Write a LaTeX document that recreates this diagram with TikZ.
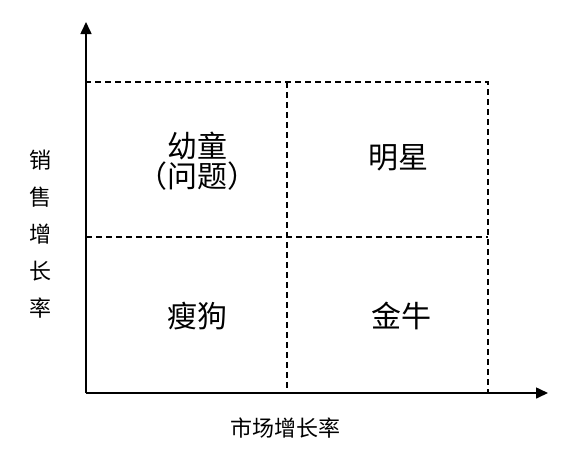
\documentclass[tikz,border=0pt]{standalone}
\usepackage{fontspec}
\setmainfont{Noto Sans CJK SC}
\usetikzlibrary{arrows.meta, positioning, calc}

\tikzset{
  axisline/.style={line width=1.6pt, -{Triangle[length=12pt,width=11pt]}},
  gridline/.style={dashed, dash pattern=on 6pt off 4pt, line width=1.1pt},
  cell/.style={font=\fontsize{30}{30}\selectfont, align=center},
  axislabel/.style={font=\fontsize{22}{37}\selectfont, align=center}
}

\begin{document}
\begin{tikzpicture}[x=1pt, y=-1pt]
\useasboundingbox (0,0) rectangle (574,467);
% axes
\coordinate (O) at (86,393);
\coordinate (ytip) at (86,22);
\coordinate (xtip) at (548,393);
\coordinate (tr) at (488,82);
\coordinate (mid) at (287,237);
\draw[gridline] (O) rectangle (tr);
\draw[gridline] (mid |- tr) -- (mid |- O);
\draw[gridline] (O |- mid) -- (tr |- mid);
\draw[axisline] (O) -- (ytip);
\draw[axisline] (O) -- (xtip);

% quadrants
\node[cell] (child) at (197,161) {幼童\\（问题）};
\node[cell] (star) at (398,158) {明星};
\node[cell] (dog) at (197,316) {瘦狗};
\node[cell] (cow) at (401,316) {金牛};

% labels
\node[axislabel] (ylab) at (40,234) {销\\售\\增\\长\\率};
\node[axislabel] (xlab) at (285,428) {市场增长率};
\end{tikzpicture}
\end{document}
